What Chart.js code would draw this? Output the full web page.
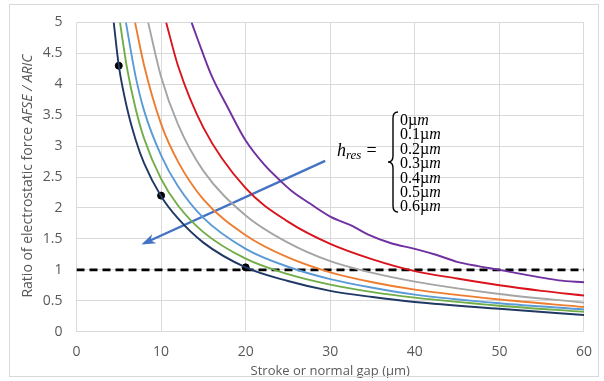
<!DOCTYPE html>
<html>
<head>
<meta charset="utf-8">
<script src="https://cdn.jsdelivr.net/npm/chart.js@4.4.1/dist/chart.umd.min.js"></script>
<style>
  html, body { margin: 0; padding: 0; background: #fff; }
  #wrap { position: relative; width: 604px; height: 381px; }
  #frame { position: absolute; left: 9px; top: 4px; width: 590px; height: 373px; border: 1px solid #d9d9d9; box-sizing: border-box; pointer-events: none; }
</style>
</head>
<body>
<div id="wrap">
  <canvas id="gapChart" width="604" height="381"></canvas>
  <div id="frame"></div>
</div>
<script>
// Curves for each residual height (x = gap in µm, y = force ratio)
const labels = ['0µm', '0.1µm', '0.2µm', '0.3µm', '0.4µm', '0.5µm', '0.6µm'];
const colors = ['#203864', '#70AD47', '#5B9BD5', '#ED7D31', '#A5A5A5', '#D9141C', '#7030A0'];

const h0X = [4.4, 5, 6, 7, 8, 10, 12, 15, 20, 25, 30, 35, 40, 50, 60];
const h0Y = [5, 4.3, 3.6, 3.1, 2.72, 2.19, 1.83, 1.44, 1.04, 0.82, 0.66, 0.56, 0.48, 0.37, 0.27];

const h1X = [5.14, 6, 7, 8, 10, 12, 15, 20, 25, 30, 35, 40, 50, 60];
const h1Y = [5, 4.24, 3.6, 3.12, 2.47, 2.04, 1.61, 1.18, 0.93, 0.76, 0.64, 0.55, 0.42, 0.32];

const h2X = [5.84, 7, 8, 10, 12, 15, 20, 25, 30, 35, 40, 50, 60];
const h2Y = [5, 4.12, 3.57, 2.85, 2.35, 1.84, 1.34, 1.05, 0.85, 0.71, 0.6, 0.46, 0.36];

const h3X = [6.92, 8, 10, 12, 15, 20, 25, 30, 35, 40, 50, 60];
const h3Y = [5, 4.3, 3.36, 2.75, 2.14, 1.56, 1.2, 0.96, 0.8, 0.68, 0.52, 0.40];

const h4X = [8.47, 10, 12, 15, 20, 25, 30, 35, 40, 50, 60];
const h4Y = [5, 4.12, 3.35, 2.6, 1.88, 1.44, 1.14, 0.95, 0.81, 0.61, 0.47];

const h5X = [10.6, 12, 15, 20, 25, 30, 35, 40, 45, 50, 55, 60];
const h5Y = [5, 4.3, 3.3, 2.32, 1.78, 1.42, 1.17, 0.98, 0.86, 0.75, 0.66, 0.585];

const h6X = [13.6, 14.4, 15.9, 17.9, 20, 22.2, 24.1, 25.4, 27.5, 30, 32.6, 34.5, 37.2, 40, 42.6, 45, 47.5, 50, 53.5, 57, 60];
const h6Y = [5, 4.7, 4.16, 3.62, 3.09, 2.7, 2.44, 2.28, 2.08, 1.86, 1.71, 1.57, 1.43, 1.34, 1.24, 1.13, 1.06, 1.0, 0.91, 0.83, 0.8];

const markX = [5, 10, 20];
const markY = [4.3, 2.2, 1.04];

const refX = [0, 60];
const refY = [1, 1];

const arrowX = [29.4, 8.0];
const arrowY = [2.76, 1.43];

const yTicks = [0, 0.5, 1, 1.5, 2, 2.5, 3, 3.5, 4, 4.5, 5];
const xTicks = [0, 10, 20, 30, 40, 50, 60];

const curvesX = [h0X, h1X, h2X, h3X, h4X, h5X, h6X];
const curvesY = [h0Y, h1Y, h2Y, h3Y, h4Y, h5Y, h6Y];

function pts(xs, ys) {
    return xs.map((x, i) => ({ x: x, y: ys[i] }));
}

const datasets = curvesX.map((xs, i) => ({
    label: labels[i],
    data: pts(xs, curvesY[i]),
    borderColor: colors[i],
    borderWidth: 1.9,
    pointRadius: 0,
    showLine: true,
    cubicInterpolationMode: 'monotone'
}));

datasets.push({
    label: 'ratio = 1',
    data: pts(refX, refY),
    borderColor: '#000',
    borderWidth: 2.6,
    borderDash: [8, 5],
    pointRadius: 0,
    showLine: true
});

datasets.push({
    label: 'arrow',
    data: pts(arrowX, arrowY),
    borderColor: '#4472C4',
    borderWidth: 2.4,
    pointRadius: 0,
    showLine: true
});

datasets.push({
    label: 'marks',
    data: pts(markX, markY),
    backgroundColor: '#000',
    borderColor: '#000',
    pointRadius: 3.5,
    showLine: false
});

const txtColor = '#595959';

// arrow head, axis titles and the h_res annotation
const extrasPlugin = {
    id: 'extras',
    afterDatasetsDraw(chart) {
        const { ctx, scales: { x, y }, chartArea } = chart;

        // arrow head at the lower-left end
        const x0 = x.getPixelForValue(arrowX[0]), y0 = y.getPixelForValue(arrowY[0]);
        const x1 = x.getPixelForValue(arrowX[1]), y1 = y.getPixelForValue(arrowY[1]);
        const ang = Math.atan2(y1 - y0, x1 - x0);
        const len = 11, wid = 5;
        ctx.save();
        ctx.fillStyle = '#4472C4';
        ctx.beginPath();
        ctx.moveTo(x1 + Math.cos(ang) * 3, y1 + Math.sin(ang) * 3);
        ctx.lineTo(x1 - Math.cos(ang) * len - Math.sin(ang) * wid, y1 - Math.sin(ang) * len + Math.cos(ang) * wid);
        ctx.lineTo(x1 - Math.cos(ang) * (len - 4), y1 - Math.sin(ang) * (len - 4));
        ctx.lineTo(x1 - Math.cos(ang) * len + Math.sin(ang) * wid, y1 - Math.sin(ang) * len - Math.cos(ang) * wid);
        ctx.closePath();
        ctx.fill();
        ctx.restore();

        // x title
        ctx.save();
        ctx.fillStyle = txtColor;
        ctx.font = '13px "Open Sans"';
        ctx.textAlign = 'center';
        ctx.textBaseline = 'middle';
        ctx.fillText('Stroke or normal gap (µm)', (chartArea.left + chartArea.right) / 2, 371);
        ctx.restore();

        // y title with italic part
        ctx.save();
        ctx.fillStyle = txtColor;
        ctx.translate(28, 176);
        ctx.rotate(-Math.PI / 2);
        ctx.textBaseline = 'middle';
        const p1 = 'Ratio of electrostatic force ', p2 = 'AFSE / ARIC';
        ctx.font = '14px "Open Sans"';
        const w1 = ctx.measureText(p1).width;
        ctx.font = 'italic 14px "Open Sans"';
        const w2 = ctx.measureText(p2).width;
        const sx = -(w1 + w2) / 2;
        ctx.font = '14px "Open Sans"';
        ctx.textAlign = 'left';
        ctx.fillText(p1, sx, 0);
        ctx.font = 'italic 14px "Open Sans"';
        ctx.fillText(p2, sx + w1, 0);
        ctx.restore();

        // h_res = { list
        ctx.save();
        ctx.fillStyle = '#000';
        ctx.textBaseline = 'alphabetic';
        const baseY = 156;
        ctx.font = 'italic 18px "Liberation Serif"';
        ctx.fillText('h', 337, baseY);
        const hw = ctx.measureText('h').width;
        ctx.font = 'italic 13px "Liberation Serif"';
        ctx.fillText('res', 337 + hw, baseY + 3);
        const rw = ctx.measureText('res').width;
        ctx.font = '18px "Liberation Serif"';
        ctx.fillText('=', 337 + hw + rw + 5, baseY);

        // brace
        const bx = 393, top = 112, bot = 212, mid = (top + bot) / 2;
        ctx.strokeStyle = '#000';
        ctx.lineWidth = 1.4;
        ctx.beginPath();
        ctx.moveTo(bx + 5, top);
        ctx.quadraticCurveTo(bx, top, bx, top + 6);
        ctx.lineTo(bx, mid - 6);
        ctx.quadraticCurveTo(bx, mid, bx - 5, mid);
        ctx.quadraticCurveTo(bx, mid, bx, mid + 6);
        ctx.lineTo(bx, bot - 6);
        ctx.quadraticCurveTo(bx, bot, bx + 5, bot);
        ctx.stroke();

        const step = 14.4;
        labels.forEach((lab, i) => {
            const ly = top + 13 + i * step;
            const num = lab.replace('m', '');
            ctx.font = '16px "Liberation Serif"';
            ctx.fillText(num, 400, ly);
            const nw = ctx.measureText(num).width;
            ctx.font = 'italic 16px "Liberation Serif"';
            ctx.fillText('m', 400 + nw, ly);
        });
        ctx.restore();
    }
};

new Chart(document.getElementById('gapChart'), {
    type: 'scatter',
    data: { datasets: datasets },
    options: {
        responsive: false,
        animation: false,
        layout: { padding: { left: 0, top: 21, right: 11.5, bottom: 0 } },
        plugins: {
            legend: { display: false },
            tooltip: { enabled: false }
        },
        scales: {
            x: {
                type: 'linear',
                min: 0,
                max: 60,
                afterBuildTicks: s => { s.ticks = xTicks.map(v => ({ value: v })); },
                afterFit: s => { s.height = 49.3; },
                grid: { color: '#d9d9d9', drawTicks: false },
                border: { display: false },
                ticks: { color: txtColor, font: { family: '"Open Sans"', size: 14 }, padding: 12, callback: v => String(v) }
            },
            y: {
                type: 'linear',
                min: 0,
                max: 5,
                afterBuildTicks: s => { s.ticks = yTicks.map(v => ({ value: v })); },
                afterFit: s => { s.width = 76.5; },
                grid: { color: '#d9d9d9', drawTicks: false },
                border: { display: false },
                ticks: { color: txtColor, font: { family: '"Open Sans"', size: 14 }, padding: 14, callback: v => String(v) }
            }
        }
    },
    plugins: [extrasPlugin]
});
</script>
</body>
</html>
